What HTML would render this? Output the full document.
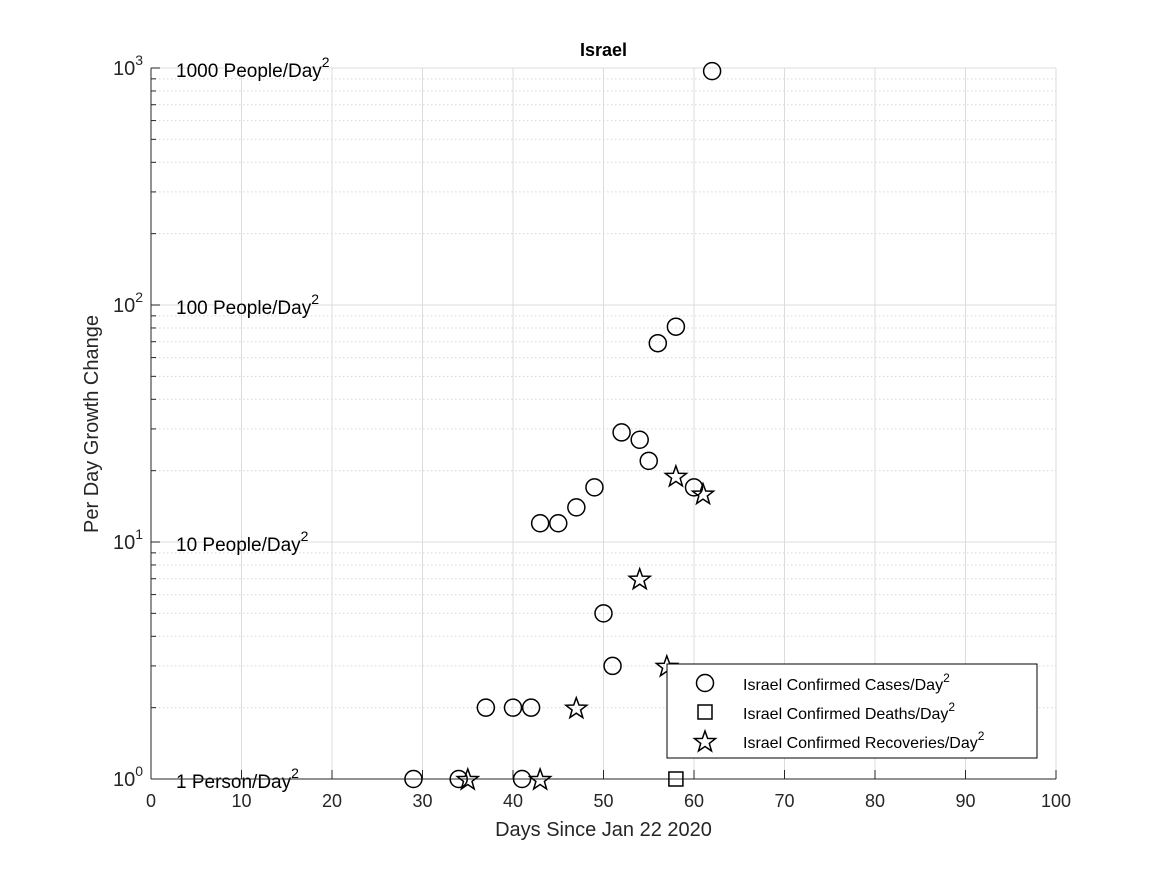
<!DOCTYPE html>
<html><head><meta charset="utf-8"><style>
body{margin:0;background:#fff;}
svg text{font-family:"Liberation Sans",sans-serif;}
</style></head><body>
<svg id="chart" width="1167" height="875" xmlns="http://www.w3.org/2000/svg">
<rect width="1167" height="875" fill="#fff"/>
<g id="grid"></g>
<g id="axes"></g>
<g id="marks"></g>
<g id="legend"></g>
</svg>
<script>
const casesX=[29,34,37,40,41,42,43,45,47,49,50,51,52,54,55,56,58,60,62];
const casesY=[1,1,2,2,1,2,12,12,14,17,5,3,29,27,22,69,81,17,970];
const deathsX=[58];
const deathsY=[1];
const recX=[35,43,47,54,57,58,61];
const recY=[1,1,2,7,3,19,16];
const xTicks=[0,10,20,30,40,50,60,70,80,90,100];
const yDecades=[0,1,2,3];
const refLabels=["1 Person/Day","10 People/Day","100 People/Day","1000 People/Day"];

const L=151,R=1056,T=68,B=779;
const NS="http://www.w3.org/2000/svg";
const X=v=>L+(v/100)*(R-L);
const Y=v=>B-(Math.log10(v)/3)*(B-T);
function mk(tag,attrs,parent,text){const e=document.createElementNS(NS,tag);for(const k in attrs)e.setAttribute(k,attrs[k]);if(text!==undefined)e.textContent=text;parent.appendChild(e);return e;}
const grid=document.getElementById('grid'),axes=document.getElementById('axes'),marks=document.getElementById('marks'),leg=document.getElementById('legend');

xTicks.forEach(t=>{
 const g=mk('line',{x1:X(t),x2:X(t),y1:T,y2:B,stroke:'#dcdcdc','stroke-width':1},grid);
 
 
 mk('line',{x1:X(t),x2:X(t),y1:B,y2:B-9,stroke:'#262626'},axes);
 const lb=mk('text',{x:X(t),y:B+28,'font-size':18,'text-anchor':'middle',fill:'#262626'},axes,String(t));
 
 
});
yDecades.forEach((d,i)=>{
 const v=Math.pow(10,d);
 const g=mk('line',{x1:L,x2:R,y1:Y(v),y2:Y(v),stroke:'#dcdcdc'},grid);
 
 
 if(d<3){for(let m=2;m<=9;m++){const mg=mk('line',{x1:L,x2:R,y1:Y(m*v),y2:Y(m*v),stroke:'#d8d8d8','stroke-dasharray':'1.5,2.5'},grid);
  
  
  mk('line',{x1:L,x2:L+5,y1:Y(m*v),y2:Y(m*v),stroke:'#262626'},axes);}}
 mk('line',{x1:L,x2:L+9,y1:Y(v),y2:Y(v),stroke:'#262626'},axes);
 const tl=mk('text',{x:L-8,y:Y(v)+7,'font-size':20,'text-anchor':'end',fill:'#262626'},axes);
 
 
 mk('tspan',{},tl,'10');mk('tspan',{dy:-10,'font-size':14},tl,String(d));
 const rl=mk('text',{x:176,y:Y(v)+9,'font-size':19,fill:'#000'},axes);
 
 
 mk('tspan',{},rl,refLabels[i]);mk('tspan',{dy:-10,'font-size':14},rl,'2');
});
const ya=mk('line',{x1:L,x2:L,y1:T,y2:B,stroke:'#262626','stroke-width':1},axes);


const xa=mk('line',{x1:L,x2:R,y1:B,y2:B,stroke:'#262626','stroke-width':1},axes);


const ti=mk('text',{x:(L+R)/2,y:56,'font-size':18,'font-weight':'bold','text-anchor':'middle'},axes,'Israel');


const xl=mk('text',{x:(L+R)/2,y:836,'font-size':20,'text-anchor':'middle',fill:'#262626'},axes,'Days Since Jan 22 2020');


const yl=mk('text',{x:0,y:0,'font-size':20,'text-anchor':'middle',fill:'#262626',transform:'translate(98,424) rotate(-90)'},axes,'Per Day Growth Change');



function circle(x,y,p){return mk('circle',{cx:x,cy:y,r:8.5,fill:'none',stroke:'#000','stroke-width':1.5},p);}
function square(x,y,p){return mk('rect',{x:x-7,y:y-7,width:14,height:14,fill:'none',stroke:'#000','stroke-width':1.5},p);}
function star(x,y,p){let pts=[];for(let i=0;i<10;i++){const r=i%2?4.5:11;const a=-Math.PI/2+i*Math.PI/5;pts.push((x+r*Math.cos(a)).toFixed(1)+','+(y+r*Math.sin(a)+1).toFixed(1));}
 return mk('polygon',{points:pts.join(' '),fill:'none',stroke:'#000','stroke-width':1.5},p);}
casesX.forEach((x,i)=>{const e=circle(X(x),Y(casesY[i]),marks);
 
 });
deathsX.forEach((x,i)=>{const e=square(X(x),Y(deathsY[i]),marks);
 
 });
recX.forEach((x,i)=>{const e=star(X(x),Y(recY[i]),marks);
 
 });

const lb=mk('rect',{x:667,y:664,width:370,height:94,fill:'#fff',stroke:'#000','stroke-width':1},leg);


const entries=[['Israel Confirmed Cases/Day',circle],['Israel Confirmed Deaths/Day',square],['Israel Confirmed Recoveries/Day',star]];
entries.forEach((en,i)=>{const y=683+i*29;
 const g=mk('g',{},leg);
 
 
 en[1](705,y,g);
 const t=mk('text',{x:743,y:y+7,'font-size':16,fill:'#000'},g);
 mk('tspan',{},t,en[0]);mk('tspan',{dy:-8,'font-size':12},t,'2');
});
</script>
</body></html>
